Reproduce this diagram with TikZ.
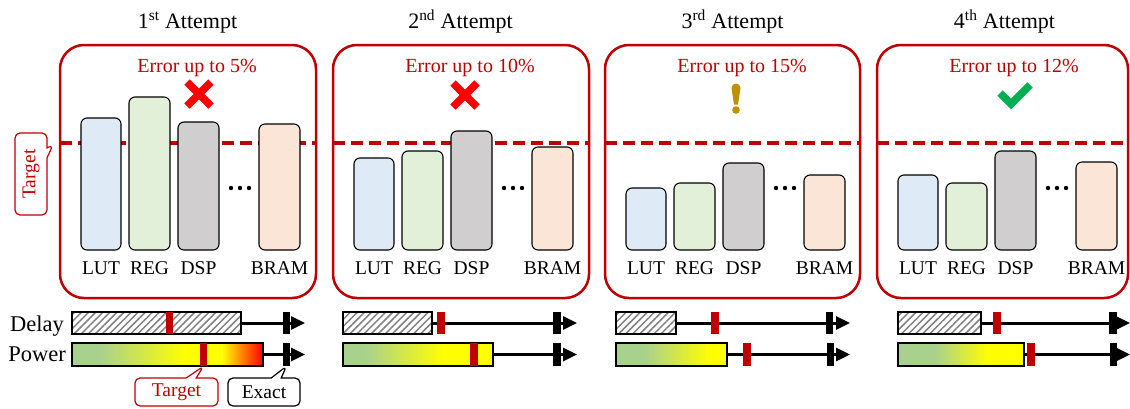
\documentclass[tikz,border=0pt]{standalone}
\usepackage{fontspec}
\setmainfont{Liberation Serif}
\usetikzlibrary{fit,shapes.callouts,patterns.meta,arrows.meta}

\definecolor{darkred}{HTML}{C00000}
\definecolor{lutc}{HTML}{DEEBF7}
\definecolor{regc}{HTML}{E2F0D9}
\definecolor{dspc}{HTML}{D0CECE}
\definecolor{bramc}{HTML}{FBE5D6}
\definecolor{pgreen}{HTML}{A9D18E}
\definecolor{pyellow}{HTML}{FFFF00}
\definecolor{porange}{HTML}{FF9900}
\definecolor{pred}{HTML}{FF0000}
\definecolor{okgreen}{HTML}{00B050}
\definecolor{warngold}{HTML}{BF9000}

\tikzset{
  panelbox/.style={draw=darkred, line width=2.5pt, rounded corners=24pt, inner sep=0pt},
  targetline/.style={draw=darkred, line width=3.5pt, dash pattern=on 12pt off 6pt},
  resbar/.style={draw=black, line width=1.1pt, rounded corners=6pt, inner sep=0pt},
  reslabel/.style={font=\fontsize{19.5}{20}\selectfont, inner sep=0pt, anchor=base},
  attempttitle/.style={font=\fontsize{22}{24}\selectfont, inner sep=0pt, anchor=base},
  errtext/.style={font=\fontsize{20}{22}\selectfont, text=darkred, inner sep=0pt, anchor=base},
  rowlabel/.style={font=\fontsize{22.5}{24}\selectfont, inner sep=0pt, anchor=base east},
  delaybar/.style={draw=black, line width=2.2pt, inner sep=0pt,
    pattern={Lines[angle=45,distance=5pt,line width=1.5pt]}, pattern color=black!50},
  powerbar/.style={draw=black, line width=2.2pt, inner sep=0pt},
  redtick/.style={fill=darkred, inner sep=0pt},
  exacttick/.style={fill=black, inner sep=0pt},
  timeline/.style={draw=black, line width=3pt, -{Triangle[length=14pt,width=13pt]}},
  tagbox/.style={rectangle callout, draw, line width=1.2pt, rounded corners=5pt,
    inner sep=0pt, callout pointer width=10pt, fill=white,
    font=\fontsize{19.5}{20}\selectfont},
  crossmark/.style={draw=pred, line width=7.5pt},
  tickmark/.style={draw=okgreen, line width=7.5pt, miter limit=4},
}

% one attempt panel: id, left x, width, LUT/REG/DSP/BRAM bar tops, title, error text
\newcommand\attemptpanel[9]{%
  \node[panelbox, fit={(#2,45) (#2+#3,298)}] (p#1) {};
  \node[attempttitle] (t#1) at (#2+127.5,28) {#8};
  \node[errtext] (e#1) at (#2+137,72) {#9};
  \draw[targetline] (#2,143) -- (#2+#3,143);
  \node[resbar, fill=lutc,  fit={(#2+21,#4) (#2+61,250)}]   (lut#1) {};
  \node[resbar, fill=regc,  fit={(#2+69,#5) (#2+110,250)}]  (reg#1) {};
  \node[resbar, fill=dspc,  fit={(#2+118,#6) (#2+159,250)}] (dsp#1) {};
  \node[resbar, fill=bramc, fit={(#2+199,#7) (#2+240,250)}] (bram#1) {};
  \foreach \d in {171,180,189} \fill (#2+\d,188) circle (2.2pt);
  \node[reslabel] (lutl#1)  at (#2+41,274)    {LUT};
  \node[reslabel] (regl#1)  at (#2+89.5,274)  {REG};
  \node[reslabel] (dspl#1)  at (#2+138.5,274) {DSP};
  \node[reslabel] (braml#1) at (#2+219.5,274) {BRAM};
}

\begin{document}
\begin{tikzpicture}[x=1pt, y=-1pt]
\useasboundingbox (0,0) rectangle (1130,408);

% ---------- resource panels ----------
\attemptpanel{1}{60}{256}{118}{97}{122}{124}{1\textsuperscript{st} Attempt}{Error up to 5\%}
\attemptpanel{2}{333}{256}{158}{151}{131}{147}{2\textsuperscript{nd} Attempt}{Error up to 10\%}
\attemptpanel{3}{605}{255}{188}{183}{163}{175}{3\textsuperscript{rd} Attempt}{Error up to 15\%}
\attemptpanel{4}{877}{251}{175}{183}{151}{162}{4\textsuperscript{th} Attempt}{Error up to 12\%}

% verdict icons
\draw[crossmark] (187,82) -- (211,106) (211,82) -- (187,106);
\draw[crossmark] (453,83) -- (477,107) (477,83) -- (453,107);
\fill[warngold] (731.5,88) arc (180:360:4.5) -- (738,104.5) -- (734,104.5) -- cycle;
\fill[warngold] (736,110) circle (3.8pt);
\draw[tickmark] (1000,93) -- (1011,104) -- (1030,85);

% target callout on the left
\node[tagbox, draw=darkred, text=darkred, minimum width=32pt, minimum height=82pt,
      callout absolute pointer={(53,145)}] (tgtl) at (31,174) {\rotatebox{90}{Target}};

% ---------- delay / power rows ----------
\node[rowlabel] (delay) at (64,331) {Delay};
\node[rowlabel] (power) at (66,361.5) {Power};

% power gradients
\fill[pgreen] (72,343) rectangle (100.5,366);
\shade[left color=pgreen, right color=pyellow] (100,343) rectangle (185.5,366);
\fill[pyellow] (185,343) rectangle (222.5,366);
\shade[left color=pyellow, middle color=porange, right color=pred] (222,343) rectangle (263,366);

\fill[pgreen] (343,343) rectangle (365.5,366);
\shade[left color=pgreen, right color=pyellow] (365,343) rectangle (443.5,366);
\fill[pyellow] (443,343) rectangle (493,366);

\fill[pgreen] (616,343) rectangle (645.5,366);
\shade[left color=pgreen, right color=pyellow] (645,343) rectangle (710.5,366);
\fill[pyellow] (710,343) rectangle (727,366);

\fill[pgreen] (898,343) rectangle (935.5,366);
\shade[left color=pgreen, right color=pyellow] (935,343) rectangle (988.5,366);
\fill[pyellow] (988,343) rectangle (1024,366);

% bars
\node[delaybar, fit={(72,312) (241,334)}]  (d1) {};
\node[delaybar, fit={(343,312) (432,334)}] (d2) {};
\node[delaybar, fit={(616,312) (676,334)}] (d3) {};
\node[delaybar, fit={(898,312) (981,334)}] (d4) {};
\node[powerbar, fit={(72,343) (263,366)}]   (w1) {};
\node[powerbar, fit={(343,343) (493,366)}]  (w2) {};
\node[powerbar, fit={(616,343) (727,366)}]  (w3) {};
\node[powerbar, fit={(898,343) (1024,366)}] (w4) {};

% axis ends
\coordinate (de1) at (305,323);   \coordinate (we1) at (305,354.5);
\coordinate (de2) at (577,323);   \coordinate (we2) at (577,354.5);
\coordinate (de3) at (850,323);   \coordinate (we3) at (850,354.5);
\coordinate (de4) at (1130,323);  \coordinate (we4) at (1130,354.5);
\foreach \i in {1,2,3,4} {
  \draw[timeline] (d\i.east) -- (de\i);
  \draw[timeline] (w\i.east) -- (we\i);
}

% target markers
\node[redtick, fit={(166,312) (173,334)}]   (dm1) {};
\node[redtick, fit={(200,343) (207,366)}]   (wm1) {};
\node[redtick, fit={(437,312) (445,334)}]   (dm2) {};
\node[redtick, fit={(470,343) (478,366)}]   (wm2) {};
\node[redtick, fit={(711,312) (719,334)}]   (dm3) {};
\node[redtick, fit={(743,343) (751,366)}]   (wm3) {};
\node[redtick, fit={(993,312) (1001,334)}]  (dm4) {};
\node[redtick, fit={(1027,343) (1035,366)}] (wm4) {};

% exact-value ticks
\node[exacttick, fit={(283,312) (290,334)}]   (dx1) {};
\node[exacttick, fit={(283,343) (290,366)}]   (wx1) {};
\node[exacttick, fit={(553,312) (561,334)}]   (dx2) {};
\node[exacttick, fit={(553,343) (561,366)}]   (wx2) {};
\node[exacttick, fit={(826,312) (833,334)}]   (dx3) {};
\node[exacttick, fit={(827,343) (834,366)}]   (wx3) {};
\node[exacttick, fit={(1109,312) (1117,334)}] (dx4) {};
\node[exacttick, fit={(1110,343) (1117,366)}] (wx4) {};

% legend callouts
\node[tagbox, draw=darkred, text=darkred, minimum width=83pt, minimum height=28pt,
      callout absolute pointer={(wm1.south)}] (tgtb) at (176.5,392) {Target};
\node[tagbox, draw=black, text=black, minimum width=72pt, minimum height=28pt,
      callout absolute pointer={(wx1.south)}] (exact) at (264,392) {Exact};
\end{tikzpicture}
\end{document}
